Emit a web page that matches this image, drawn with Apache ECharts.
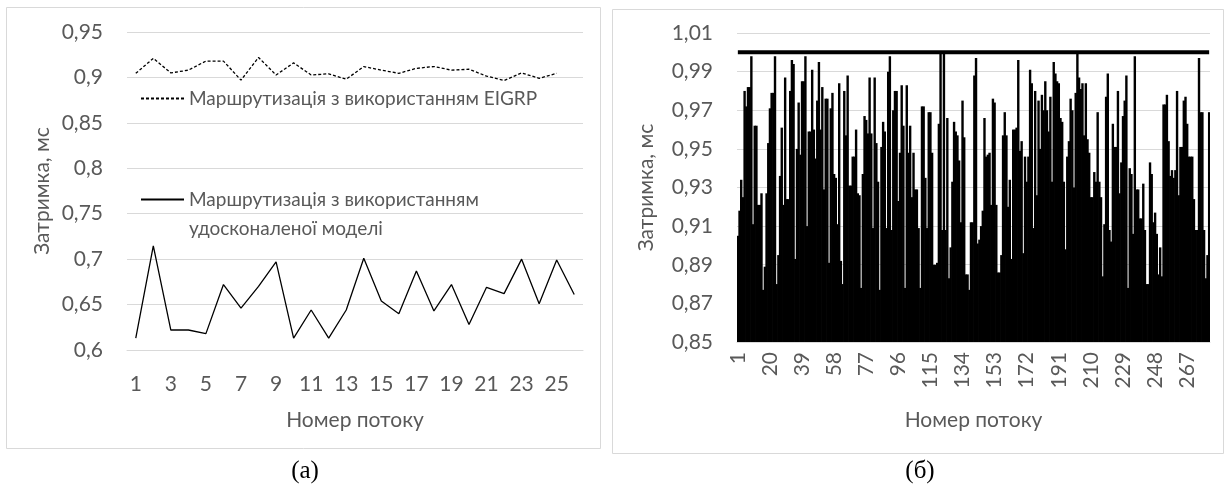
<!DOCTYPE html>
<html>
<head>
<meta charset="utf-8">
<script src="https://cdn.jsdelivr.net/npm/echarts@6/dist/echarts.min.js"></script>
<style>
  html, body { margin: 0; padding: 0; background: #fff; }
  #chart { width: 1225px; height: 494px; }
</style>
</head>
<body>
<div id="chart"></div>
<script>
// (а) delay per flow, two routing approaches
const eigrpDelay = [
  0.9045, 0.921, 0.905, 0.908, 0.918, 0.918, 0.897, 0.922, 0.9027, 0.916,
  0.9027, 0.904, 0.898, 0.912, 0.908, 0.9045, 0.910, 0.912, 0.908, 0.909,
  0.9015, 0.8965, 0.905, 0.899, 0.9045
];
const improvedDelay = [
  0.613, 0.7145, 0.622, 0.622, 0.618, 0.672, 0.646, 0.670, 0.697, 0.613,
  0.644, 0.613, 0.644, 0.701, 0.654, 0.640, 0.687, 0.643, 0.672, 0.628,
  0.669, 0.662, 0.700, 0.651, 0.699, 0.661
];
const flowsA = Array.from({ length: 26 }, (_, i) => String(i + 1));

// (б) delay of each of the 280 flows and the 1 ms bound
const flowDelay = [
  0.905, 0.918, 0.934, 0.925, 0.980, 0.972, 0.982, 0.982, 0.998, 0.911,
  0.962, 0.962, 0.921, 0.921, 0.927, 0.877, 0.889, 0.927, 0.953, 0.971,
  0.979, 0.979, 0.998, 0.880, 0.895, 0.936, 0.961, 0.921, 0.987, 0.924,
  0.924, 0.980, 0.996, 0.994, 0.893, 0.950, 0.974, 0.947, 0.985, 0.985,
  0.998, 0.910, 0.959, 0.959, 0.991, 0.960, 0.945, 0.975, 0.995, 0.960,
  0.982, 0.929, 0.976, 0.976, 0.891, 0.971, 0.979, 0.937, 0.935, 0.911,
  0.984, 0.892, 0.880, 0.980, 0.957, 0.988, 0.931, 0.931, 0.946, 0.946,
  0.960, 0.927, 0.926, 0.878, 0.937, 0.967, 0.965, 0.958, 0.987, 0.958,
  0.909, 0.987, 0.953, 0.933, 0.877, 0.951, 0.964, 0.959, 0.909, 0.990,
  0.998, 0.908, 0.970, 0.980, 0.980, 0.923, 0.948, 0.983, 0.962, 0.878,
  0.983, 0.948, 0.962, 0.925, 0.948, 0.929, 0.929, 0.909, 0.878, 0.972,
  0.972, 0.935, 0.909, 0.969, 0.969, 0.948, 0.890, 0.890, 0.891, 0.963,
  0.9995, 0.908, 0.9995, 0.908, 0.966, 0.883, 0.899, 0.933, 0.964, 0.959,
  0.957, 0.944, 0.912, 0.975, 0.956, 0.885, 0.885, 0.877, 0.912, 0.912,
  0.988, 0.997, 0.901, 0.903, 0.910, 0.918, 0.966, 0.946, 0.947, 0.948,
  0.921, 0.976, 0.974, 0.921, 0.886, 0.886, 0.895, 0.957, 0.969, 0.957,
  0.920, 0.934, 0.893, 0.960, 0.960, 0.961, 0.996, 0.949, 0.954, 0.896,
  0.946, 0.933, 0.946, 0.991, 0.984, 0.909, 0.980, 0.926, 0.975, 0.950,
  0.978, 0.970, 0.985, 0.970, 0.959, 0.977, 0.933, 0.995, 0.989, 0.985,
  0.984, 0.966, 0.964, 0.933, 0.898, 0.946, 0.954, 0.976, 0.970, 0.930,
  0.979, 0.9995, 0.987, 0.981, 0.984, 0.957, 0.984, 0.955, 0.948, 0.925,
  0.925, 0.938, 0.933, 0.969, 0.933, 0.925, 0.884, 0.911, 0.977, 0.989,
  0.908, 0.902, 0.963, 0.951, 0.951, 0.980, 0.927, 0.943, 0.967, 0.975,
  0.988, 0.878, 0.940, 0.937, 0.906, 0.998, 0.929, 0.929, 0.914, 0.914,
  0.932, 0.908, 0.880, 0.880, 0.943, 0.937, 0.912, 0.917, 0.906, 0.885,
  0.899, 0.884, 0.973, 0.973, 0.978, 0.954, 0.936, 0.939, 0.935, 0.939,
  0.980, 0.926, 0.951, 0.951, 0.975, 0.977, 0.963, 0.946, 0.946, 0.946,
  0.924, 0.908, 0.908, 0.997, 0.969, 0.969, 0.908, 0.883, 0.895, 0.969
];
const delayLimit = 1.0;
const flowsB = flowDelay.map((_, i) => String(i + 1));

const nameEigrp = 'Маршрутизація з використанням EIGRP';
const nameImproved = 'Маршрутизація з використанням\nудосконаленої моделі';
const axisTitleY = 'Затримка, мс';
const axisTitleX = 'Номер потоку';
const panelTags = ['(а)', '(б)'];

const FONT = 'Lato';
const TEXT = '#595959';
const GRID_LINE = '#d9d9d9';

const commaShort = v => String(parseFloat(v.toFixed(2))).replace('.', ',');
const commaFixed = v => v.toFixed(2).replace('.', ',');

const chart = echarts.init(document.getElementById('chart'), null, { renderer: 'canvas' });

const labelStyle = { color: TEXT, fontSize: 21, fontFamily: FONT };
const legendText = { color: TEXT, fontSize: 19, fontFamily: FONT, lineHeight: 29 };

chart.setOption({
  animation: false,
  backgroundColor: '#fff',
  textStyle: { fontFamily: FONT },
  grid: [
    { left: 127, top: 32, width: 456, height: 318, outerBoundsMode: 'none' },
    { left: 737, top: 33, width: 473, height: 309, outerBoundsMode: 'none' }
  ],
  legend: [
    {
      data: [nameEigrp], left: 140, top: 84, padding: 0,
      itemWidth: 43, itemHeight: 14, selectedMode: false,
      itemStyle: { opacity: 0 },
      textStyle: legendText
    },
    {
      // leading empty line keeps the key line level with the first text line
      data: [nameImproved], left: 140, top: 156, padding: 0,
      itemWidth: 43, itemHeight: 14, selectedMode: false,
      itemStyle: { opacity: 0 },
      formatter: name => '\n' + name,
      textStyle: legendText
    }
  ],
  xAxis: [
    {
      gridIndex: 0, type: 'category', data: flowsA, boundaryGap: true,
      axisLine: { lineStyle: { color: GRID_LINE } },
      axisTick: { show: false },
      axisLabel: Object.assign({ interval: 1, margin: 24 }, labelStyle),
      name: axisTitleX, nameLocation: 'middle', nameGap: 60,
      nameTextStyle: labelStyle
    },
    {
      gridIndex: 1, type: 'category', data: flowsB, boundaryGap: true,
      axisLine: { lineStyle: { color: GRID_LINE } },
      axisTick: { show: false },
      axisLabel: Object.assign({ interval: 18, rotate: 90, margin: 10 }, labelStyle),
      name: axisTitleX, nameLocation: 'middle', nameGap: 68,
      nameTextStyle: labelStyle
    }
  ],
  yAxis: [
    {
      gridIndex: 0, type: 'value', min: 0.6, max: 0.95, interval: 0.05,
      axisLine: { show: false }, axisTick: { show: false },
      splitLine: { lineStyle: { color: GRID_LINE } },
      axisLabel: Object.assign({ margin: 24, formatter: commaShort }, labelStyle),
      name: axisTitleY, nameLocation: 'middle', nameGap: 74,
      nameTextStyle: labelStyle
    },
    {
      gridIndex: 1, type: 'value', min: 0.85, max: 1.01, interval: 0.02,
      axisLine: { show: false }, axisTick: { show: false },
      splitLine: { lineStyle: { color: GRID_LINE } },
      axisLabel: Object.assign({ margin: 24, formatter: commaFixed }, labelStyle),
      name: axisTitleY, nameLocation: 'middle', nameGap: 80,
      nameTextStyle: labelStyle
    }
  ],
  series: [
    {
      name: nameEigrp, type: 'line', xAxisIndex: 0, yAxisIndex: 0,
      data: eigrpDelay, symbol: 'none',
      lineStyle: { color: '#000', width: 1.3, type: [3, 2] },
      itemStyle: { color: '#000' }
    },
    {
      name: nameImproved, type: 'line', xAxisIndex: 0, yAxisIndex: 0,
      data: improvedDelay, symbol: 'none',
      lineStyle: { color: '#000', width: 1.3 },
      itemStyle: { color: '#000' }
    },
    {
      // slightly wider than a category so neighbouring bars overlap without seams
      name: 'delay', type: 'bar', xAxisIndex: 1, yAxisIndex: 1,
      data: flowDelay, barWidth: 2.4,
      itemStyle: { color: '#000' }
    },
    {
      name: 'limit', type: 'line', xAxisIndex: 1, yAxisIndex: 1,
      data: flowsB.map(() => delayLimit), symbol: 'none',
      lineStyle: { color: '#000', width: 4 }, z: 1
    }
  ],
  graphic: [
    { type: 'rect', silent: true, shape: { x: 6.5, y: 7.5, width: 594, height: 441 },
      style: { fill: 'none', stroke: GRID_LINE, lineWidth: 1 } },
    { type: 'rect', silent: true, shape: { x: 612.5, y: 9.5, width: 611, height: 444 },
      style: { fill: 'none', stroke: GRID_LINE, lineWidth: 1 } },
    { type: 'text', silent: true, x: 305, y: 471,
      style: { text: panelTags[0], textAlign: 'center', textVerticalAlign: 'middle',
               font: '25px "Liberation Serif"', fill: '#000' } },
    { type: 'text', silent: true, x: 920, y: 471,
      style: { text: panelTags[1], textAlign: 'center', textVerticalAlign: 'middle',
               font: '25px "Liberation Serif"', fill: '#000' } }
  ]
});
</script>
</body>
</html>
